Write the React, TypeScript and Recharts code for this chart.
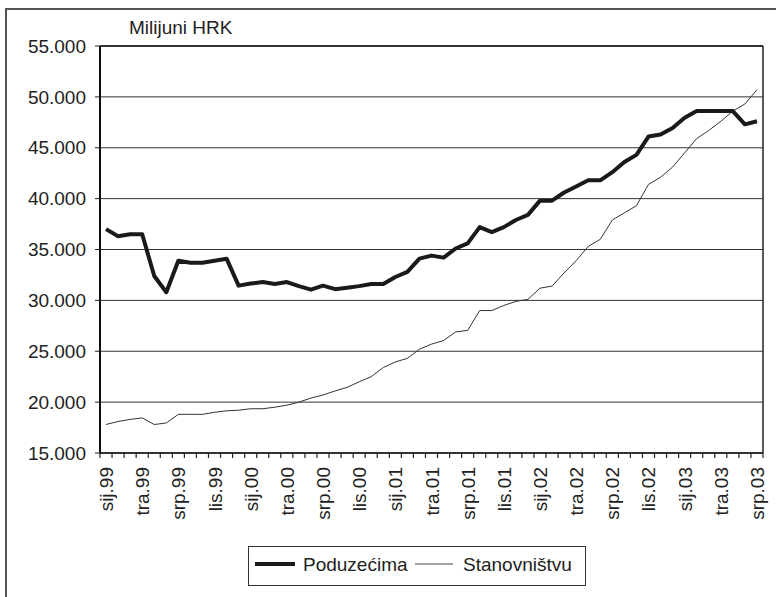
import React from 'react';
import { LineChart, Line, XAxis, YAxis, CartesianGrid, ReferenceLine, Legend } from 'recharts';

const FONT = '"Liberation Sans", Arial, Helvetica, sans-serif';

const monthNames = ['sij', 'velj', 'ožu', 'tra', 'svi', 'lip', 'srp', 'kol', 'ruj', 'lis', 'stu', 'pro'];
const yearNames = ['99', '00', '01', '02', '03'];
const monthCount = 55;

const categories: string[] = [];
for (let i = 0; i < monthCount; i++) {
  categories.push(`${monthNames[i % 12]}.${yearNames[Math.floor(i / 12)]}`);
}

const poduzecima = [
  37000, 36300, 36500, 36500, 32400, 30800, 33900, 33700, 33700, 33900,
  34100, 31450, 31650, 31800, 31600, 31800, 31400, 31050, 31450, 31100,
  31250, 31400, 31600, 31600, 32300, 32800, 34100, 34400, 34200, 35100,
  35600, 37200, 36700, 37200, 37900, 38400, 39800, 39800, 40600, 41200,
  41800, 41800, 42600, 43600, 44300, 46100, 46300, 46950, 47950, 48600,
  48600, 48600, 48600, 47300, 47600,
];

const stanovnistvu = [
  17800, 18100, 18300, 18450, 17800, 17950, 18800, 18800, 18800, 19000,
  19150, 19200, 19350, 19350, 19500, 19700, 20000, 20400, 20700, 21100,
  21450, 22000, 22500, 23400, 23950, 24300, 25200, 25700, 26050, 26900,
  27050, 29000, 29000, 29500, 29900, 30100, 31200, 31400, 32700, 33900,
  35300, 36000, 37900, 38600, 39300, 41400, 42100, 43100, 44500, 45900,
  46700, 47600, 48600, 49300, 50700,
];

const yTicks = [15000, 20000, 25000, 30000, 35000, 40000, 45000, 50000, 55000];
const labelEvery = 3;
const seriesNames = ['Poduzećima', 'Stanovništvu'];

const data = categories.map((c, i) => ({ idx: i, label: c, p: poduzecima[i], s: stanovnistvu[i] }));

// tick positions: category boundaries (half values) and category centres (integers)
const xTicks: number[] = [];
for (let i = 0; i <= monthCount * 2; i++) xTicks.push(-0.5 + i * 0.5);

const fmt = (v: number) => `${Math.floor(v / 1000)}.${String(v % 1000).padStart(3, '0')}`;

const XTick = (props: any) => {
  const { x, y, payload } = props;
  const v = payload.value as number;
  if (!Number.isInteger(v)) {
    return <line x1={x} x2={x} y1={y} y2={y + 5} stroke="#222" strokeWidth={1.2} />;
  }
  if (v % labelEvery !== 0) return <g />;
  const tx = x + 7;
  const ty = y + 14;
  return (
    <text
      x={tx}
      y={ty}
      transform={`rotate(-90, ${tx}, ${ty})`}
      textAnchor="end"
      fontSize={19}
      fill="#222"
      fontFamily={FONT}
    >
      {categories[v]}
    </text>
  );
};

const renderLegend = () => (
  <div
    style={{
      boxSizing: 'border-box',
      width: 338,
      height: 40,
      border: '1px solid #333',
      background: '#fff',
      fontFamily: FONT,
    }}
  >
    <svg width={336} height={38} style={{ display: 'block' }}>
      <line x1={6} x2={46} y1={17} y2={17} stroke="#1a1a1a" strokeWidth={4} />
      <text x={54} y={24} fontSize={19} fill="#222" fontFamily={FONT}>{seriesNames[0]}</text>
      <line x1={166} x2={204} y1={17} y2={17} stroke="#444" strokeWidth={1} />
      <text x={214} y={24} fontSize={19} fill="#222" fontFamily={FONT}>{seriesNames[1]}</text>
    </svg>
  </div>
);

export default function App() {
  return (
    <div style={{ position: 'absolute', left: 0, top: 0, width: 776, height: 597, background: '#fff', fontFamily: FONT }}>
      <div
        style={{
          position: 'absolute',
          left: 5,
          top: 8,
          right: 0,
          bottom: 0,
          borderLeft: '2px solid #555',
          borderTop: '2px solid #555',
        }}
      />
      <div
        style={{
          position: 'absolute',
          left: 129,
          top: 18,
          fontSize: 19,
          lineHeight: '19px',
          color: '#222',
          whiteSpace: 'nowrap',
        }}
      >
        Milijuni HRK
      </div>
      <div style={{ position: 'absolute', left: 0, top: 0 }}>
        <LineChart width={776} height={597} data={data} margin={{ top: 46, right: 13, bottom: 0, left: 0 }}>
          <CartesianGrid vertical={false} stroke="#333" strokeWidth={1} />
          <XAxis
            dataKey="idx"
            type="number"
            domain={[-0.5, monthCount - 0.5]}
            ticks={xTicks}
            interval={0}
            tick={<XTick />}
            tickLine={false}
            tickSize={0}
            tickMargin={0}
            axisLine={{ stroke: '#111', strokeWidth: 1.5 }}
            height={144}
            allowDataOverflow
          />
          <YAxis
            type="number"
            domain={[15000, 55000]}
            ticks={yTicks}
            interval={0}
            width={100}
            tickSize={5}
            tickMargin={9}
            tickFormatter={fmt}
            tick={{ fontSize: 19, fill: '#222', fontFamily: FONT }}
            tickLine={{ stroke: '#222' }}
            axisLine={{ stroke: '#111', strokeWidth: 2 }}
          />
          <ReferenceLine y={55000} stroke="#111" strokeWidth={1.5} />
          <ReferenceLine x={monthCount - 0.5} stroke="#222" strokeWidth={1.5} />
          <Line
            type="linear"
            dataKey="s"
            name={seriesNames[1]}
            stroke="#333"
            strokeWidth={1}
            dot={false}
            activeDot={false}
            isAnimationActive={false}
          />
          <Line
            type="linear"
            dataKey="p"
            name={seriesNames[0]}
            stroke="#1a1a1a"
            strokeWidth={4}
            strokeLinejoin="round"
            dot={false}
            activeDot={false}
            isAnimationActive={false}
          />
          <Legend
            layout="horizontal"
            verticalAlign="middle"
            align="center"
            wrapperStyle={{ left: 248, top: 546, width: 338, height: 40 }}
            content={renderLegend}
          />
        </LineChart>
      </div>
    </div>
  );
}
